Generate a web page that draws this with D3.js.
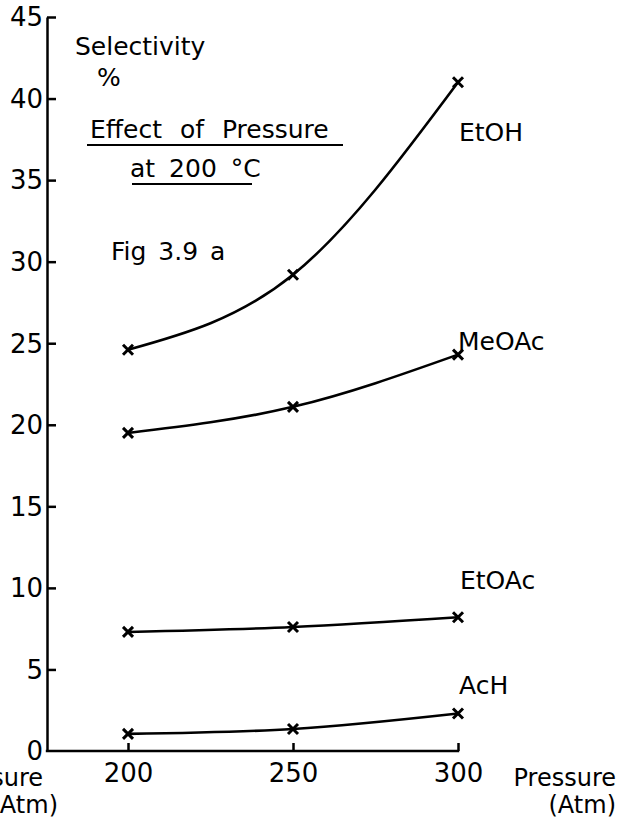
<!DOCTYPE html>
<html>
<head>
<meta charset="utf-8">
<script src="https://cdn.jsdelivr.net/npm/d3@7"></script>
<style>
  body { margin: 0; background: #fff; }
  text { font-family: "DejaVu Sans", sans-serif; fill: #000; }
</style>
</head>
<body>
<div id="chart"></div>
<script>
const pressures = [200, 250, 300];
const seriesNames = ["EtOH", "MeOAc", "EtOAc", "AcH"];
const etoh  = [24.6, 29.2, 41.0];
const meoac = [19.5, 21.1, 24.3];
const etoac = [7.3, 7.6, 8.2];
const ach   = [1.05, 1.35, 2.3];
const yTicks = [0, 5, 10, 15, 20, 25, 30, 35, 40, 45];

const seriesValues = [etoh, meoac, etoac, ach];

const width = 628, height = 824;
const axisLeftX = 47;
const axisBottomY = 751;

const svg = d3.select("#chart").append("svg")
  .attr("width", width)
  .attr("height", height);

const x = d3.scaleLinear().domain([200, 300]).range([128, 458]);
const y = d3.scaleLinear().domain([0, 45]).range([axisBottomY, 17]);

// y axis, ticks pointing inward
const yAxis = svg.append("g")
  .attr("transform", "translate(" + axisLeftX + ",0)")
  .call(d3.axisLeft(y).tickValues(yTicks).tickSize(-9).tickSizeOuter(0).tickPadding(4)
    .tickFormat(d3.format("d")));
yAxis.select(".domain").attr("stroke-width", 2.5);
yAxis.selectAll(".tick line").attr("stroke-width", 2.5);
yAxis.selectAll(".tick text").style("font-size", "26px").attr("dy", "0.34em");
yAxis.selectAll(".tick").filter(d => d === 0).select("line").remove();

// x axis
svg.append("line")
  .attr("x1", axisLeftX - 1.2).attr("x2", x(300) + 1.2)
  .attr("y1", axisBottomY).attr("y2", axisBottomY)
  .attr("stroke", "#000").attr("stroke-width", 2.5);

const xAxis = svg.append("g")
  .attr("transform", "translate(0," + axisBottomY + ")")
  .call(d3.axisBottom(x).tickValues(pressures).tickSize(-8).tickPadding(13));
xAxis.select(".domain").remove();
xAxis.selectAll(".tick line").attr("stroke-width", 2.5);
xAxis.selectAll(".tick text").style("font-size", "26px");

// axis titles (left one is cut by the page edge, as in the original)
svg.append("text").attr("x", 43).attr("y", 786).attr("text-anchor", "end")
  .style("font-size", "24px").text("Pressure");
svg.append("text").attr("x", 58).attr("y", 813).attr("text-anchor", "end")
  .style("font-size", "24px").text("(Atm)");
svg.append("text").attr("x", 616).attr("y", 786).attr("text-anchor", "end")
  .style("font-size", "24px").text("Pressure");
svg.append("text").attr("x", 616).attr("y", 813).attr("text-anchor", "end")
  .style("font-size", "24px").text("(Atm)");

// annotations
svg.append("text").attr("x", 75).attr("y", 55).style("font-size", "25px").text("Selectivity");
svg.append("text").attr("x", 97).attr("y", 86).style("font-size", "25px").text("%");
svg.append("text").attr("x", 90).attr("y", 138).style("font-size", "25px")
  .style("word-spacing", "10px").text("Effect of Pressure");
svg.append("line").attr("x1", 87).attr("x2", 343).attr("y1", 145).attr("y2", 145)
  .attr("stroke", "#000").attr("stroke-width", 2.2);
svg.append("text").attr("x", 130).attr("y", 177).style("font-size", "25px")
  .style("word-spacing", "6px").text("at 200 °C");
svg.append("line").attr("x1", 132).attr("x2", 252).attr("y1", 184).attr("y2", 184)
  .attr("stroke", "#000").attr("stroke-width", 2.2);
svg.append("text").attr("x", 111).attr("y", 260).style("font-size", "25px")
  .style("word-spacing", "4px").text("Fig 3.9 a");

// curves
const line = d3.line()
  .x((d, i) => x(pressures[i]))
  .y(d => y(d))
  .curve(d3.curveNatural);

const labelPos = [[459, 141], [458, 350], [460, 589], [459, 694]];

seriesValues.forEach((vals, s) => {
  svg.append("path")
    .attr("d", line(vals))
    .attr("fill", "none")
    .attr("stroke", "#000")
    .attr("stroke-width", 2.6);

  const r = 5;
  svg.selectAll(null)
    .data(vals)
    .enter()
    .append("path")
      .attr("d", (d, i) => {
        const cx = x(pressures[i]), cy = y(d);
        return "M" + (cx - r) + "," + (cy - r) + "L" + (cx + r) + "," + (cy + r) +
               "M" + (cx - r) + "," + (cy + r) + "L" + (cx + r) + "," + (cy - r);
      })
      .attr("stroke", "#000")
      .attr("stroke-width", 3);

  svg.append("text")
    .attr("x", labelPos[s][0]).attr("y", labelPos[s][1])
    .style("font-size", "25px")
    .text(seriesNames[s]);
});
</script>
</body>
</html>
